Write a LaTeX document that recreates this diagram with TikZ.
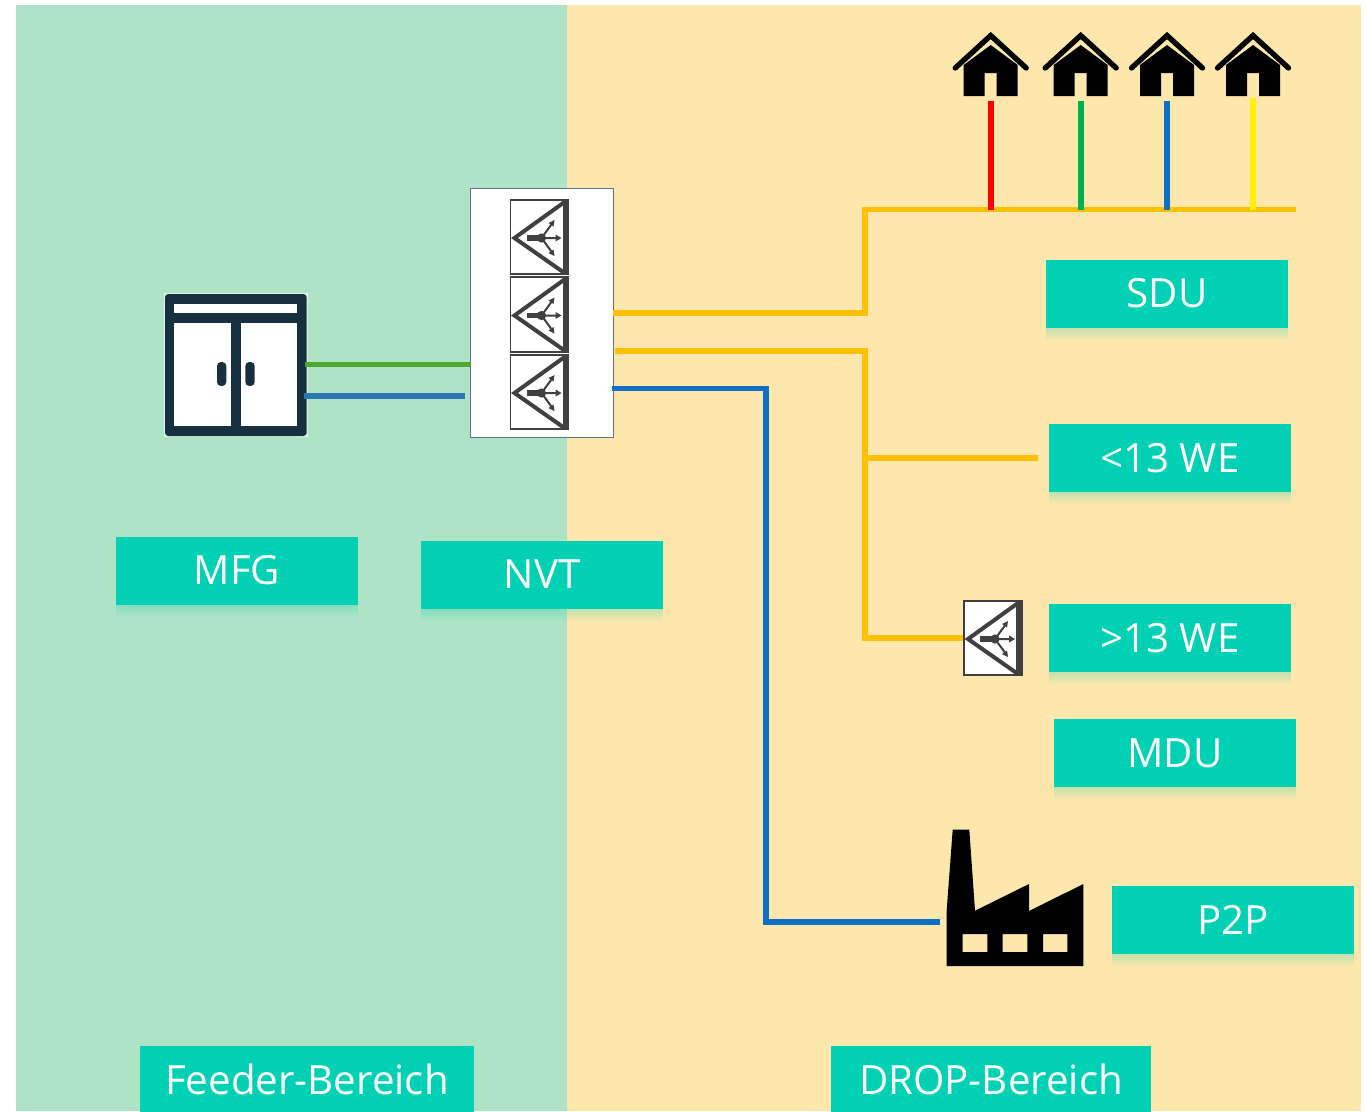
\documentclass[tikz,border=0pt]{standalone}
\usepackage{fontspec}
\setmainfont{Open Sans}
\usetikzlibrary{shadows,fadings}
\definecolor{feederbg}{HTML}{AEE4C5}
\definecolor{dropbg}{HTML}{FDE7AD}
\definecolor{tagteal}{HTML}{00D1B5}
\definecolor{cabdark}{HTML}{17303F}
\definecolor{splitgrey}{HTML}{404040}
\definecolor{orangeline}{HTML}{FFC000}
\definecolor{blueline}{HTML}{0F6FC6}
\definecolor{blueshort}{HTML}{2E75B6}
\definecolor{greenshort}{HTML}{4EA72E}
\definecolor{greendrop}{HTML}{00B050}
\tikzset{
  softshade/.style={
    general shadow={fill=tagteal,opacity=.04,shadow yshift=-9pt},
    general shadow={fill=tagteal,opacity=.04,shadow yshift=-7.5pt},
    general shadow={fill=tagteal,opacity=.04,shadow yshift=-6pt},
    general shadow={fill=tagteal,opacity=.04,shadow yshift=-4.5pt},
    general shadow={fill=tagteal,opacity=.04,shadow yshift=-3pt},
    general shadow={fill=tagteal,opacity=.04,shadow yshift=-1.5pt}},
  tag/.style={softshade,fill=tagteal,draw=none,text=white,inner sep=0pt,font=\fontsize{30.2}{32}\selectfont,
    minimum width=182pt,minimum height=51pt},
  areatag/.style={fill=tagteal,draw=none,text=white,inner sep=0pt,font=\fontsize{30.2}{32}\selectfont,
    anchor=north,text height=36pt,text depth=22pt},
  wire/.style={line width=4.2pt,line join=miter},
  orangewire/.style={wire,draw=orangeline},
  drop/.style={line width=4.6pt},
  splitterbox/.style={draw=splitgrey,fill=white,line width=1.3pt,inner sep=0pt,minimum width=43.5pt,minimum height=56pt},
  pics/splitter/.style={code={
    \draw[splitgrey,line width=3pt,line join=miter] (25,-35) -- (-25,1) -- (25,36);
    \draw[splitgrey,line width=4.4pt] (26,-37) -- (26,37);
    \draw[splitgrey,line width=3.8pt] (-13,1) -- (2,1);
    \fill[splitgrey] (2,1) circle (4.6);
    \draw[splitgrey,line width=1.5pt] (2,1) -- (19,1) (2,1) -- (13,-14) (2,1) -- (13,16);
    \fill[splitgrey] (22,1) -- (16,-2.5) -- (16,4.5) -- cycle;
    \fill[splitgrey] (15,-17) -- (9,-14) -- (14,-10.5) -- cycle;
    \fill[splitgrey] (15,19) -- (9,16) -- (14,12.5) -- cycle;
  }},
  pics/house/.style={code={
    \draw[black,line width=4pt,line cap=round,line join=miter] (-35.5,37) -- (0,4.5) -- (35.5,37);
    \fill[black] (-27,34) -- (0,14) -- (27,34) -- (27,65) -- (6,65) -- (6,42) -- (-6,42) -- (-6,65) -- (-27,65) -- cycle;
  }}
}
\begin{document}
\begin{tikzpicture}[x=0.75pt,y=-0.75pt]
\useasboundingbox (0,0) rectangle (1366,1111);
\fill[white] (0,0) rectangle (1366,1111);
\begin{scope}
\clip (0,0) rectangle (1366,1111);
\fill[feederbg] (16,5) rectangle (567,1111);
\fill[dropbg] (567,5) rectangle (1361,1111);

% named anchor points
\coordinate (cabG) at (305,364.5);
\coordinate (cabB) at (304,396);
\coordinate (nvtG) at (471,364.5);
\coordinate (nvtB) at (465,396);
\coordinate (nvtO1) at (613,313);
\coordinate (nvtO2) at (615,351);
\coordinate (nvtB2) at (612,388.5);
\coordinate (bendA) at (865,313);
\coordinate (busW) at (865,209.5);
\coordinate (busE) at (1296,209.5);
\coordinate (bendB) at (865,351);
\coordinate (bendC) at (865,638);
\coordinate (jct) at (865,458);
\coordinate (midEnd) at (1038,458);
\coordinate (bendD) at (766,388.5);
\coordinate (bendE) at (766,922);
\coordinate (facIn) at (940,922);
\coordinate (tapR) at (990.7,209.5);
\coordinate (tapG) at (1080.7,209.5);
\coordinate (tapB) at (1167,209.5);
\coordinate (tapY) at (1253,209.5);
\coordinate (homeR) at (990.7,100.5);
\coordinate (homeG) at (1080.7,100.5);
\coordinate (homeB) at (1167,100.5);
\coordinate (homeY) at (1253,98);

% cabinet
\node[draw=none,fill=none,minimum width=106pt,minimum height=106pt,inner sep=0pt] (cab) at (236,365) {};
\fill[white,opacity=.6] (164,293) rectangle (307.7,437);
\fill[cabdark,rounded corners=2.5pt] (165,294) rectangle (306.7,436);
\fill[white] (174.3,304) rectangle (297,313.3);
\fill[white] (174.3,322.7) rectangle (231.3,426);
\fill[white] (240.7,322.7) rectangle (297,426);
\fill[cabdark,rounded corners=3pt] (217,362) rectangle (226.3,386);
\fill[cabdark,rounded corners=3pt] (245.3,362) rectangle (254.7,386);

% NVT enclosure
\node[draw=blueshort!50!black!70,fill=white,line width=1.2pt,inner sep=0pt,minimum width=107pt,minimum height=186.5pt] (nvtbox) at (542,313) {};

\node[splitterbox] (s1) at (539.5,237) {};
\pic at (s1.center) {splitter};
\node[splitterbox] (s2) at (539.5,314.5) {};
\pic at (s2.center) {splitter};
\node[splitterbox] (s3) at (539.5,392) {};
\pic at (s3.center) {splitter};
\node[splitterbox] (s4) at (993,638) {};
\pic at (s4.center) {splitter};

% wires
\draw[wire,draw=greenshort] (cabG) -- (nvtG);
\draw[wire,draw=blueshort] (cabB) -- (nvtB);
\draw[orangewire] (nvtO1) -- (bendA) -- (busW) -- (busE);
\draw[orangewire] (nvtO2) -- (bendB) -- (bendC) -- (s4.west);
\draw[orangewire] (jct) -- (midEnd);
\draw[wire,draw=blueline] (nvtB2) -- (bendD) -- (bendE) -- (facIn);
\draw[drop,draw=red] (homeR) -- (tapR);
\draw[drop,draw=greendrop] (homeG) -- (tapG);
\draw[drop,draw=blueline] (homeB) -- (tapB);
\draw[drop,draw=yellow] (homeY) -- (tapY);

% houses
\pic at (990.7,31) {house};
\pic at (1080.7,31) {house};
\pic at (1167,31) {house};
\pic at (1253,31) {house};

% factory
\fill[black,even odd rule] (952.7,829.5) -- (969.3,829.5) -- (975,910.7) -- (1029,884) -- (1029,911) -- (1083.3,884) -- (1083.3,966) -- (946.7,966) -- (946.7,910) -- cycle
 (962.7,934) rectangle (987.3,952) (1002.7,934) rectangle (1027.3,952) (1043,934) rectangle (1067.3,952);

% labels
\node[tag] (sdu) at (1167,293.5) {SDU};
\node[tag] (lt13) at (1170,458) {<13 WE};
\node[tag] (gt13) at (1170,638) {>13 WE};
\node[tag] (mdu) at (1175,753) {MDU};
\node[tag] (p2p) at (1233,920) {P2P};
\node[tag] (mfg) at (237,570.5) {MFG};
\node[tag] (nvt) at (542,574.5) {NVT};
\node[areatag,minimum width=250.5pt] (feeder) at (307,1046) {Feeder-Bereich};
\node[areatag,minimum width=240.5pt] (dropb) at (991,1046) {DROP-Bereich};
\end{scope}
\end{tikzpicture}
\end{document}
